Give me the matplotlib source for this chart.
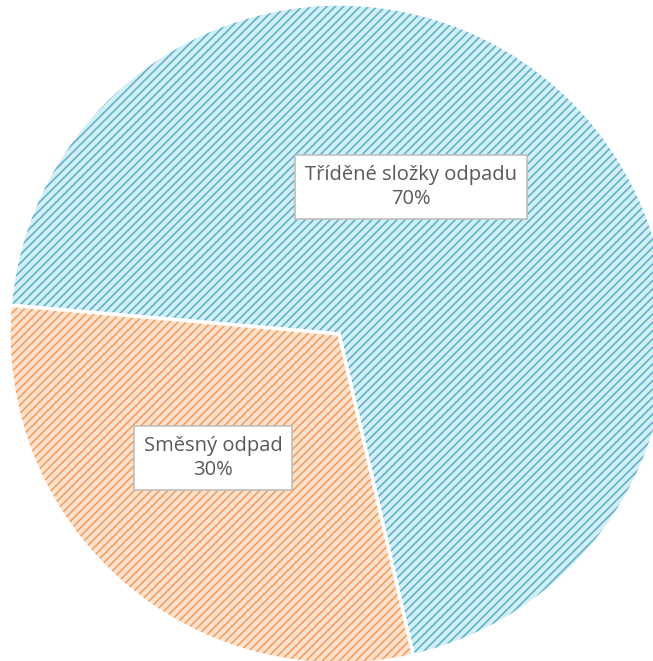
import matplotlib.pyplot as plt
from matplotlib.patches import Wedge

# ----------------
# Data
# ----------------
labels = ['Tříděné složky odpadu', 'Směsný odpad']
shares = [70, 30]
line_colors = ['#58b2cb', '#f59d58']
fill_colors = ['#d4eef6', '#fde3ce']

plt.rcParams['hatch.linewidth'] = 1.15

# ----------------
# Figure
# ----------------
W, H = 653, 661
fig = plt.figure(figsize=(W / 100, H / 100), dpi=100)
ax = fig.add_axes([0, 0, 1, 1])
ax.set_axis_off()

# pie center / radius in pixels
cx, cy, r = 339, 334, 330
ax.set_xlim(-cx / r, (W - cx) / r)
ax.set_ylim(-(H - cy) / r, cy / r)
ax.set_aspect('equal')

start = -77.0
theta = start
for val, lc, fc in zip(shares, line_colors, fill_colors):
    span = 360 * val / sum(shares)
    ax.add_patch(Wedge((0, 0), 1, theta, theta + span, facecolor=fc,
                       edgecolor=lc, hatch='////', linewidth=0))
    ax.add_patch(Wedge((0, 0), 1, theta, theta + span, facecolor='none',
                       edgecolor='white', linewidth=2.5))
    theta += span

# label positions (pixel coords from the reference)
label_pos = [(411, 187), (213, 458)]
for (px, py), lab, val in zip(label_pos, labels, shares):
    ax.text((px - cx) / r, (cy - py) / r, f'{lab}\n{val}%',
            ha='center', va='center', fontsize=14.5, color='#595959',
            family=['Open Sans', 'DejaVu Sans'], linespacing=1.3,
            bbox=dict(boxstyle='square,pad=0.5', facecolor='white',
                      edgecolor='#bfbfbf', linewidth=1.2))

fig.savefig('out.png', dpi=100)
